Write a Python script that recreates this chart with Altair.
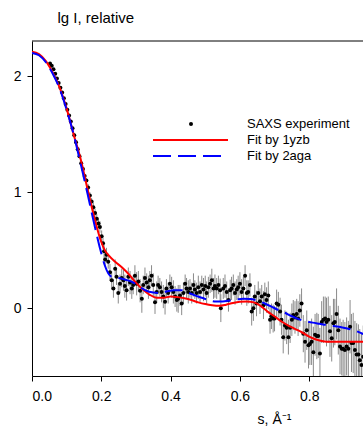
import altair as alt
import pandas as pd

# ---------------- data ----------------
exp_s = [0.052, 0.057, 0.062, 0.067, 0.072, 0.077, 0.082, 0.087, 0.092, 0.097,
         0.102, 0.107, 0.112, 0.117, 0.122, 0.127, 0.132, 0.137, 0.142, 0.147,
         0.152, 0.157, 0.162, 0.167, 0.172, 0.177, 0.182, 0.187, 0.192, 0.196,
         0.201, 0.205, 0.208, 0.211, 0.215, 0.220,
         0.225, 0.230, 0.235, 0.240, 0.244, 0.249, 0.254, 0.259, 0.264, 0.268,
         0.273, 0.278, 0.283, 0.288, 0.292, 0.297, 0.302, 0.307, 0.312, 0.317,
         0.321, 0.326, 0.331, 0.336, 0.340, 0.345, 0.350, 0.355, 0.360, 0.364,
         0.369, 0.374, 0.379, 0.384, 0.388, 0.393, 0.398, 0.403, 0.408, 0.413,
         0.418, 0.422, 0.427, 0.432, 0.437, 0.442, 0.446, 0.451, 0.456, 0.461,
         0.466, 0.470, 0.475, 0.480, 0.485, 0.490, 0.495, 0.500, 0.504, 0.509,
         0.514, 0.519, 0.524, 0.528, 0.533, 0.538, 0.543, 0.545, 0.552, 0.557,
         0.562, 0.567, 0.572, 0.576, 0.581, 0.586, 0.591, 0.595, 0.600, 0.605,
         0.610, 0.615, 0.620, 0.624, 0.629, 0.634, 0.639, 0.643, 0.648, 0.653,
         0.658, 0.663, 0.668, 0.672, 0.677, 0.682, 0.687, 0.691, 0.696, 0.700,
         0.706, 0.711, 0.716, 0.720, 0.725, 0.730, 0.735, 0.740, 0.745, 0.750,
         0.754, 0.759, 0.764, 0.768, 0.773, 0.778, 0.783, 0.788, 0.793, 0.798,
         0.802, 0.807, 0.812, 0.817, 0.822, 0.826, 0.831, 0.836, 0.841, 0.846,
         0.850, 0.855, 0.860, 0.865, 0.870, 0.874, 0.879, 0.884, 0.889, 0.894,
         0.898, 0.903, 0.908, 0.913, 0.918, 0.922, 0.927, 0.932, 0.937, 0.942,
         0.946, 0.951, 0.956]
exp_lgI = [2.11, 2.09, 2.06, 2.02, 1.98, 1.94, 1.90, 1.86, 1.81, 1.76,
           1.71, 1.66, 1.61, 1.55, 1.49, 1.43, 1.37, 1.31, 1.25, 1.20,
           1.14, 1.10, 1.04, 0.97, 0.92, 0.87, 0.82, 0.77, 0.73, 0.70,
           0.62, 0.56, 0.49, 0.42, 0.46, 0.40,
           0.31, 0.24, 0.17, 0.34, 0.27, 0.13, 0.21, 0.26, 0.24, 0.19,
           0.155, 0.27, 0.22, 0.17, 0.20, 0.28, 0.21, 0.23, 0.15, 0.08,
           0.20, 0.26, 0.22, 0.18, 0.24, 0.28, 0.20, 0.05, 0.14, 0.20,
           0.18, 0.14, 0.10, 0.055, 0.17, 0.13, 0.21, 0.18, 0.14, 0.10,
           0.07, 0.08, 0.11, 0.04, 0.13, 0.21, 0.17, 0.14, 0.17, 0.13,
           0.20, 0.16, 0.13, 0.18, 0.14, 0.20, 0.16, 0.19, 0.13, 0.18,
           0.21, 0.24, 0.17, 0.19, 0.17, 0.20, 0.155, 0.00, 0.17, 0.19,
           0.14, 0.07, 0.155, 0.17, 0.20, 0.13, 0.16, 0.18, 0.21, 0.14,
           0.17, 0.28, 0.13, 0.14, 0.20, -0.03, 0.00, 0.10, 0.04, 0.13,
           0.06, 0.10, 0.026, 0.12, 0.07, 0.11, -0.10, -0.07, -0.09, -0.09,
           0.04, 0.03, -0.03, -0.10, -0.25, -0.15, -0.17, -0.25, -0.17, -0.10,
           -0.06, -0.08, -0.05, -0.09, -0.02, 0.04, -0.22, -0.29, -0.19, -0.32,
           -0.31, -0.29, -0.38, -0.23, -0.24, -0.24, -0.39, -0.12, -0.10, -0.09,
           -0.12, -0.10, -0.20, -0.26, -0.13, -0.12, -0.05, -0.19, -0.33, -0.35,
           -0.35, -0.36, -0.33, -0.35, -0.16, -0.30, -0.30, -0.36, -0.40, -0.40,
           -0.45, -0.49, -0.42]
exp_err = [0.01, 0.01, 0.01, 0.01, 0.01, 0.01, 0.01, 0.01, 0.01, 0.01,
           0.01, 0.01, 0.01, 0.01, 0.02, 0.02, 0.02, 0.02, 0.02, 0.02,
           0.02, 0.02, 0.03, 0.03, 0.03, 0.04, 0.04, 0.04, 0.04, 0.05,
           0.05, 0.05, 0.06, 0.06, 0.06, 0.06,
           0.07, 0.08, 0.08, 0.08, 0.07, 0.09, 0.08, 0.08, 0.09, 0.10,
           0.09, 0.08, 0.10, 0.09, 0.08, 0.09, 0.10, 0.09, 0.10, 0.12,
           0.08, 0.09, 0.08, 0.10, 0.08, 0.09, 0.10, 0.10, 0.09, 0.08,
           0.08, 0.09, 0.10, 0.11, 0.08, 0.09, 0.08, 0.09, 0.10, 0.09,
           0.10, 0.12, 0.09, 0.10, 0.09, 0.08, 0.09, 0.10, 0.08, 0.09,
           0.10, 0.08, 0.09, 0.10, 0.09, 0.08, 0.10, 0.09, 0.10, 0.09,
           0.08, 0.10, 0.09, 0.10, 0.09, 0.08, 0.10, 0.12, 0.09, 0.10,
           0.09, 0.10, 0.09, 0.10, 0.09, 0.10, 0.09, 0.10, 0.10, 0.11,
           0.10, 0.09, 0.11, 0.10, 0.10, 0.12, 0.11, 0.10, 0.11, 0.10,
           0.11, 0.10, 0.12, 0.10, 0.11, 0.12, 0.12, 0.11, 0.12, 0.11,
           0.12, 0.11, 0.12, 0.13, 0.14, 0.13, 0.14, 0.15, 0.13, 0.14,
           0.13, 0.14, 0.13, 0.15, 0.14, 0.13, 0.16, 0.18, 0.17, 0.20,
           0.18, 0.20, 0.22, 0.18, 0.20, 0.19, 0.22, 0.18, 0.20, 0.19,
           0.21, 0.20, 0.22, 0.20, 0.21, 0.20, 0.22, 0.21, 0.24, 0.23,
           0.25, 0.24, 0.25, 0.24, 0.23, 0.25, 0.26, 0.25, 0.27, 0.26,
           0.27, 0.28, 0.27]

fit1_s = [0.000, 0.020, 0.040, 0.060, 0.080, 0.100, 0.120, 0.140, 0.160, 0.180,
          0.200, 0.210, 0.220, 0.240, 0.260, 0.280, 0.300, 0.320, 0.340, 0.360,
          0.380, 0.400, 0.420, 0.440, 0.460, 0.480, 0.500, 0.520, 0.540, 0.560,
          0.580, 0.600, 0.620, 0.640, 0.660, 0.680, 0.700, 0.720, 0.740, 0.760,
          0.780, 0.800, 0.820, 0.840, 0.860, 0.880, 0.900, 0.920, 0.940, 0.960,
          0.980, 1.000]
fit1_lgI = [2.21, 2.19, 2.13, 2.03, 1.90, 1.72, 1.50, 1.29, 1.03, 0.78,
            0.57, 0.50, 0.46, 0.40, 0.35, 0.29, 0.22, 0.16, 0.115, 0.09,
            0.09, 0.10, 0.095, 0.085, 0.07, 0.05, 0.035, 0.025, 0.02, 0.03,
            0.045, 0.055, 0.058, 0.05, 0.02, -0.03, -0.07, -0.115, -0.15, -0.18,
            -0.21, -0.245, -0.27, -0.285, -0.29, -0.29, -0.29, -0.29, -0.29, -0.29,
            -0.29, -0.29]

fit2_s = [0.000, 0.020, 0.040, 0.060, 0.080, 0.100, 0.120, 0.140, 0.160, 0.180,
          0.195, 0.210, 0.220, 0.230, 0.250, 0.270, 0.290, 0.310, 0.330, 0.350,
          0.370, 0.390, 0.410, 0.430, 0.450, 0.470, 0.490, 0.510, 0.530, 0.550,
          0.570, 0.590, 0.610, 0.630, 0.650, 0.670, 0.690, 0.710, 0.730, 0.750,
          0.770, 0.790, 0.810, 0.830, 0.850, 0.870, 0.890, 0.910, 0.930, 0.950,
          0.970, 1.000]
fit2_lgI = [2.20, 2.18, 2.12, 2.02, 1.89, 1.71, 1.50, 1.25, 0.99, 0.72,
            0.53, 0.37, 0.30, 0.27, 0.26, 0.245, 0.225, 0.185, 0.15, 0.135,
            0.13, 0.145, 0.155, 0.155, 0.135, 0.11, 0.09, 0.07, 0.057, 0.058,
            0.065, 0.074, 0.08, 0.078, 0.065, 0.042, 0.015, -0.015, -0.04, -0.07,
            -0.095, -0.112, -0.125, -0.135, -0.145, -0.153, -0.163, -0.175, -0.192, -0.215,
            -0.24, -0.27]

x_ticks = [0.0, 0.2, 0.4, 0.6, 0.8]
y_ticks = [0, 1, 2]
legend_labels = ["SAXS experiment", "Fit by 1yzb", "Fit by 2aga"]

FONT = "Liberation Sans"
PLOT_W = 331
PLOT_H = 335

exp_df = pd.DataFrame({"s": exp_s, "lgI": exp_lgI, "err": exp_err})
fit1_df = pd.DataFrame({"s": fit1_s, "lgI": fit1_lgI})
fit2_df = pd.DataFrame({"s": fit2_s, "lgI": fit2_lgI})

x_scale = alt.Scale(domain=[0.0, 0.9553], nice=False, zero=False)
y_scale = alt.Scale(domain=[-0.585, 2.303], nice=False, zero=False)

x_enc = alt.X("s:Q", scale=x_scale,
              axis=alt.Axis(values=x_ticks, format=".1f", title="s, Å⁻¹",
                            titleX=242, titleY=47, titleAlign="center",
                            titleBaseline="alphabetic", titleFontSize=14))
y_enc = alt.Y("lgI:Q", scale=y_scale,
              axis=alt.Axis(values=y_ticks, format="d", title="lg I, relative",
                            titleAngle=0, titleX=25, titleY=-19,
                            titleAlign="left", titleBaseline="alphabetic",
                            titleFontSize=15))

errbars = alt.Chart(exp_df).transform_calculate(
    lo="datum.lgI - datum.err", hi="datum.lgI + datum.err"
).mark_rule(color="#8a8a8a", strokeWidth=1, clip=True).encode(
    x=x_enc, y=alt.Y("lo:Q", scale=y_scale), y2="hi:Q"
)

dots = alt.Chart(exp_df).mark_circle(color="black", size=16, opacity=1, clip=True).encode(
    x=x_enc, y=y_enc
)

red = alt.Chart(fit1_df).mark_line(color="#ff0000", strokeWidth=2,
                                   interpolate="monotone", clip=True).encode(
    x=x_enc, y=y_enc
)

blue = alt.Chart(fit2_df).mark_line(color="#0000ff", strokeWidth=2, strokeDash=[18, 7],
                                    interpolate="monotone", clip=True).encode(
    x=x_enc, y=y_enc
)

one = pd.DataFrame({"k": [0]})
top_border = alt.Chart(one).mark_rule(color="black", strokeWidth=1).encode(
    x=alt.value(0), x2=alt.value(PLOT_W), y=alt.value(0))
leg_dot = alt.Chart(one).mark_circle(color="black", size=16, opacity=1).encode(
    x=alt.value(159), y=alt.value(83))
leg_red = alt.Chart(one).mark_rule(color="#ff0000", strokeWidth=2).encode(
    x=alt.value(121), x2=alt.value(196), y=alt.value(99))
leg_blue = alt.Chart(one).mark_rule(color="#0000ff", strokeWidth=2, strokeDash=[18, 7]).encode(
    x=alt.value(121), x2=alt.value(190), y=alt.value(115))
leg_texts = [
    alt.Chart(one).mark_text(align="left", baseline="middle", font=FONT,
                             fontSize=13, color="black").encode(
        x=alt.value(215), y=alt.value(yy), text=alt.value(lbl))
    for lbl, yy in zip(legend_labels, [83, 99, 115])
]

chart = alt.layer(
    errbars, dots, red, blue, top_border, leg_dot, leg_red, leg_blue, *leg_texts
).properties(
    width=PLOT_W, height=PLOT_H,
    padding={"left": 32, "top": 41, "right": 0, "bottom": 51},
    autosize=alt.AutoSizeParams(type="none"),
    background="white",
).configure_view(
    stroke=None
).configure_axis(
    grid=False, domainColor="black", domainWidth=1, tickColor="black",
    tickSize=5, labelColor="black", labelFont=FONT, labelFontSize=14,
    titleFont=FONT, titleFontWeight="normal", titleColor="black",
    labelPadding=6
).configure_axisX(labelPadding=8)

chart.save("out.html", embed_options={"renderer": "svg", "actions": False})
